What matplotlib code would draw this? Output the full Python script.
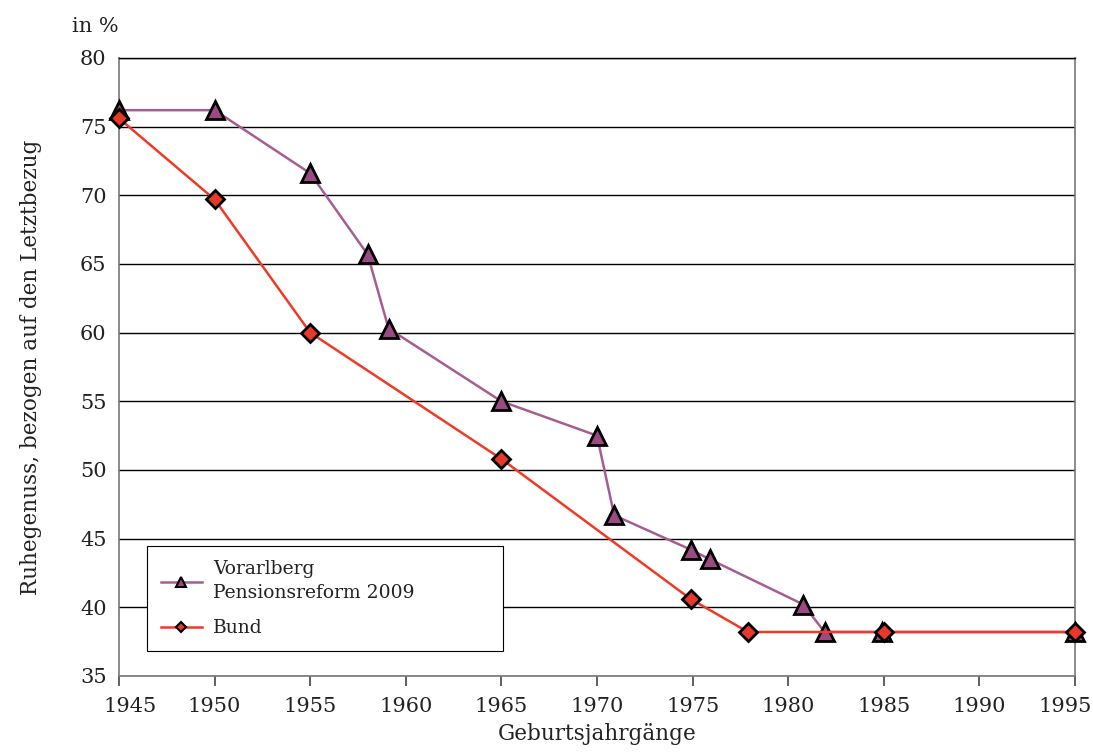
import matplotlib.pyplot as plt
import matplotlib.transforms as mtransforms
from matplotlib.lines import Line2D

plt.rcParams['font.family'] = ['DejaVu Serif']

# Data
vbg_years = [1945, 1950, 1955, 1958, 1959.1, 1965, 1970, 1970.9, 1974.9, 1975.9, 1980.8, 1981.9, 1984.9, 1995]
vbg_vals  = [76.2, 76.2, 71.6, 65.7, 60.3, 55.0, 52.5, 46.7, 44.2, 43.5, 40.2, 38.2, 38.2, 38.2]
bund_years = [1945, 1950, 1955, 1965, 1974.9, 1977.9, 1985, 1995]
bund_vals  = [75.6, 69.7, 60.0, 50.8, 40.6, 38.2, 38.2, 38.2]
x_ticks = list(range(1945, 2000, 5))
y_ticks = list(range(35, 85, 5))

PURPLE_LINE = '#A65E92'; PURPLE_FACE = '#9C4A82'
RED_LINE = '#F03A26';    RED_FACE = '#E8382A'

fig = plt.figure(figsize=(10.93, 7.53), dpi=100)
ax = fig.add_axes([0.1089, 0.1023, 0.8746, 0.8207])

ax.plot(vbg_years, vbg_vals, color=PURPLE_LINE, lw=1.8, zorder=3,
        marker='^', ms=13, mfc=PURPLE_FACE, mec='black', mew=2, clip_on=False)
ax.plot(bund_years, bund_vals, color=RED_LINE, lw=1.8, zorder=4,
        marker='D', ms=9, mfc=RED_FACE, mec='black', mew=2, clip_on=False)

ax.set_xlim(1945, 1995)
ax.set_ylim(35, 80)
ax.set_xticks(x_ticks)
ax.set_yticks(y_ticks)
ax.tick_params(axis='both', labelsize=15, labelcolor='#222222')
ax.tick_params(axis='y', length=0, pad=9)
ax.tick_params(axis='x', length=7, width=1.2, color='#444444', pad=8)
ax.yaxis.grid(True, color='black', lw=1)
ax.set_axisbelow(True)
for s in ['left', 'right', 'bottom']:
    ax.spines[s].set_color('#777777')
    ax.spines[s].set_linewidth(1.2)
ax.spines['top'].set_color('black')
ax.spines['top'].set_linewidth(1)

# shift first/last x tick labels inward like the reference
xl = ax.get_xticklabels()
xl[0].set_transform(xl[0].get_transform() +
                    mtransforms.ScaledTranslation(0.11, 0, fig.dpi_scale_trans))
xl[-1].set_transform(xl[-1].get_transform() +
                     mtransforms.ScaledTranslation(-0.10, 0, fig.dpi_scale_trans))

ax.set_xlabel('Geburtsjahrgänge', fontsize=15.5, labelpad=5, color='#222222')
ax.set_ylabel('Ruhegenuss, bezogen auf den Letztbezug', fontsize=15.5,
              labelpad=27, color='#222222')
ax.text(-0.025, 1.035, 'in %', transform=ax.transAxes, fontsize=15,
        ha='center', va='bottom', color='#222222')

handles = [
    Line2D([], [], color=PURPLE_LINE, lw=1.8, marker='^', ms=7,
           mfc=PURPLE_FACE, mec='black', mew=1.5),
    Line2D([], [], color=RED_LINE, lw=1.8, marker='D', ms=5,
           mfc=RED_FACE, mec='black', mew=1.5),
]
leg = ax.legend(handles, ['Vorarlberg\nPensionsreform 2009', 'Bund'],
                loc='lower left', bbox_to_anchor=(0.029, 0.040, 0.373, 0.172),
                mode='expand', fontsize=13.5, fancybox=False, framealpha=1,
                edgecolor='black', handlelength=2.2, borderpad=0.75,
                labelspacing=0.9, handletextpad=0.6, borderaxespad=0)
leg.get_frame().set_linewidth(0.8)
for t in leg.get_texts():
    t.set_color('#222222')
leg.get_texts()[0].set_linespacing(1.45)

plt.savefig('out.png', dpi=100)
